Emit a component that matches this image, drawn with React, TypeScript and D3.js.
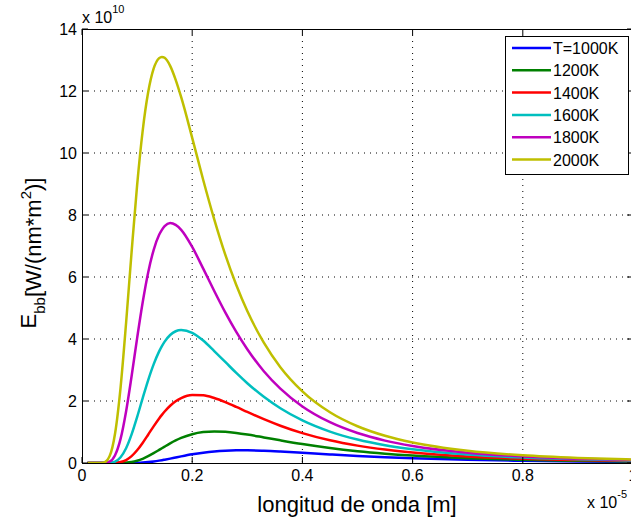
import React from "react";
import * as d3 from "d3";

// wavelength in units of 1e-5 m
const wavelengths = [0.01,0.02,0.03,0.04,0.05,0.06,0.07,0.08,0.09,0.10,0.11,0.12,0.13,0.14,0.145,0.15,0.16,0.17,0.18,0.20,0.22,0.24,0.26,0.28,0.30,0.33,0.36,0.40,0.45,0.50,0.55,0.60,0.70,0.80,0.90,1.00];

// E_bb in units of 1e10
const e1000 = [0,0,0,0,0,0,0,0.0006,0.0023,0.0067,0.0154,0.0297,0.050,0.0762,0.091,0.107,0.141,0.177,0.213,0.280,0.334,0.374,0.398,0.408,0.408,0.394,0.369,0.328,0.275,0.227,0.187,0.153,0.104,0.072,0.051,0.037];
const e1200 = [0,0,0,0,0,0,0.0026,0.0113,0.033,0.074,0.136,0.219,0.317,0.423,0.477,0.530,0.633,0.726,0.808,0.929,0.997,1.019,1.006,0.969,0.918,0.826,0.731,0.611,0.483,0.381,0.302,0.240,0.156,0.105,0.072,0.051];
const e1400 = [0,0,0,0,0,0.0056,0.030,0.096,0.221,0.410,0.648,0.913,1.183,1.438,1.553,1.661,1.847,1.991,2.095,2.196,2.183,2.095,1.963,1.809,1.647,1.414,1.203,0.964,0.732,0.560,0.432,0.337,0.212,0.139,0.095,0.066];
const e1600 = [0,0,0,0,0.0059,0.047,0.187,0.477,0.923,1.480,2.083,2.667,3.180,3.600,3.770,3.916,4.130,4.250,4.290,4.200,3.950,3.610,3.260,2.905,2.574,2.134,1.765,1.373,1.012,0.756,0.573,0.441,0.271,0.175,0.118,0.082];
const e1800 = [0,0,0,0.0024,0.0435,0.251,0.778,1.663,2.800,4.020,5.170,6.140,6.870,7.360,7.520,7.640,7.740,7.680,7.520,6.970,6.270,5.550,4.860,4.230,3.670,2.960,2.400,1.824,1.315,0.966,0.722,0.549,0.332,0.212,0.141,0.097];
const e2000 = [0,0,0,0.018,0.215,0.951,2.435,4.516,6.805,8.955,10.70,11.95,12.72,13.06,13.10,13.07,12.81,12.36,11.80,10.49,9.13,7.86,6.72,5.74,4.90,3.88,3.09,2.31,1.636,1.185,0.877,0.661,0.395,0.249,0.165,0.113];

const seriesNames = ["T=1000K","1200K","1400K","1600K","1800K","2000K"];
const seriesValues = [e1000, e1200, e1400, e1600, e1800, e2000];
const seriesColors = ["#0000ff","#008000","#ff0000","#00bfbf","#bf00bf","#bfbf00"];

const xTicks = [0, 0.2, 0.4, 0.6, 0.8, 1];
const yTicks = [0, 2, 4, 6, 8, 10, 12, 14];

const W = 631, H = 523;
const L = 82, R = 633, T = 29, B = 463;
const FONT = "'Liberation Sans', Arial, Helvetica, sans-serif";

export default function App() {
  const x = d3.scaleLinear().domain([0, 1]).range([L, R]);
  const y = d3.scaleLinear().domain([0, 14]).range([B, T]);
  const line = d3.line<number>()
    .x((_, i) => x(wavelengths[i]))
    .y((d) => y(d))
    .curve(d3.curveMonotoneX);

  const tickLen = 6;
  const legX = 505, legY = 36, legW = 123, legH = 138;
  const rowY = (i: number) => 48 + i * 22.3;

  return (
    <svg width={W} height={H} style={{ position: "absolute", left: 0, top: 0, background: "#fff" }} fontFamily={FONT}>
      <rect x={0} y={0} width={W} height={H} fill="#fff" />
      {/* grid */}
      {xTicks.filter((t) => t > 0 && t < 1).map((t) => (
        <line key={"gx" + t} x1={x(t)} x2={x(t)} y1={T} y2={B} stroke="#000" strokeWidth={1} strokeDasharray="1,5" />
      ))}
      {yTicks.filter((t) => t > 0 && t < 14).map((t) => (
        <line key={"gy" + t} x1={L} x2={R} y1={y(t)} y2={y(t)} stroke="#000" strokeWidth={1} strokeDasharray="1,5" />
      ))}
      {/* curves */}
      <g clipPath="url(#clip)">
        {seriesValues.map((vals, i) => (
          <path key={i} d={line(vals) || ""} fill="none" stroke={seriesColors[i]} strokeWidth={2.5} strokeLinejoin="round" />
        ))}
      </g>
      <defs>
        <clipPath id="clip">
          <rect x={L} y={T} width={R - L} height={B - T} />
        </clipPath>
      </defs>
      {/* axes box */}
      <rect x={L + 0.5} y={T + 0.5} width={R - L - 1} height={B - T} fill="none" stroke="#000" strokeWidth={1} />
      {xTicks.map((t) => (
        <g key={"xt" + t}>
          <line x1={x(t)} x2={x(t)} y1={B} y2={B - tickLen} stroke="#000" />
          <line x1={x(t)} x2={x(t)} y1={T} y2={T + tickLen} stroke="#000" />
          <text x={x(t)} y={B + 18} fontSize={16} textAnchor="middle" fill="#000">{String(t)}</text>
        </g>
      ))}
      {yTicks.map((t) => (
        <g key={"yt" + t}>
          <line x1={L} x2={L + tickLen} y1={y(t)} y2={y(t)} stroke="#000" />
          <line x1={R} x2={R - tickLen} y1={y(t)} y2={y(t)} stroke="#000" />
          <text x={L - 5} y={y(t) + 6} fontSize={16} textAnchor="end" fill="#000">{String(t)}</text>
        </g>
      ))}
      {/* exponent labels */}
      <text x={82} y={23} fontSize={16} fill="#000">x 10<tspan fontSize={11} dy={-10}>10</tspan></text>
      <text x={587} y={508} fontSize={16} fill="#000">x 10<tspan fontSize={11} dy={-10}>-5</tspan></text>
      {/* axis labels */}
      <text x={357} y={512} fontSize={22} textAnchor="middle" fill="#000">longitud de onda [m]</text>
      <text transform="translate(36,253) rotate(-90)" fontSize={22} textAnchor="middle" fill="#000">
        E<tspan fontSize={15} dy={9}>bb</tspan><tspan dy={-4}>[W/(nm*m</tspan><tspan fontSize={15} dy={-10}>2</tspan><tspan dy={10}>)]</tspan>
      </text>
      {/* legend */}
      <rect x={legX + 0.5} y={legY + 0.5} width={legW} height={legH} fill="#fff" stroke="#000" />
      {seriesNames.map((n, i) => (
        <g key={n}>
          <line x1={512} x2={551} y1={rowY(i)} y2={rowY(i)} stroke={seriesColors[i]} strokeWidth={2.5} />
          <text x={553} y={rowY(i) + 6} fontSize={16} fill="#000">{n}</text>
        </g>
      ))}
    </svg>
  );
}
